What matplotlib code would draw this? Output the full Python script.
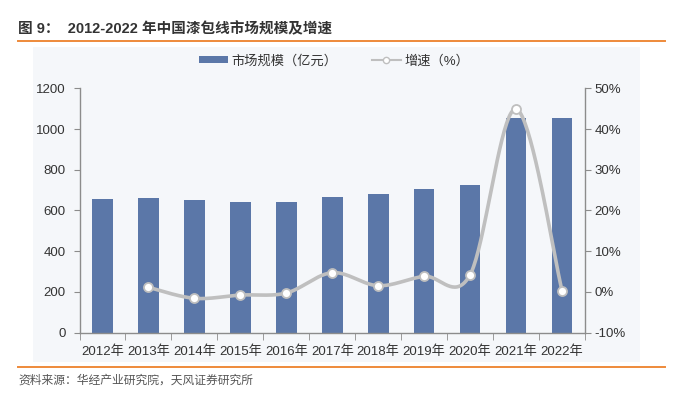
import matplotlib
matplotlib.use("Agg")
import matplotlib.pyplot as plt
import numpy as np
from matplotlib.patches import Patch
from matplotlib.lines import Line2D

years = ["2012年", "2013年", "2014年", "2015年", "2016年", "2017年",
         "2018年", "2019年", "2020年", "2021年", "2022年"]
market_size = [655, 660, 649, 641, 641, 668, 680, 704, 727, 1055, 1055]
growth_years = ["2013年", "2014年", "2015年", "2016年", "2017年",
                "2018年", "2019年", "2020年", "2021年", "2022年"]
growth = [1.1, -1.6, -0.8, -0.3, 4.7, 1.5, 3.8, 4.2, 44.9, 0.3]

left_ticks = [0, 200, 400, 600, 800, 1000, 1200]
right_ticks = [-10, 0, 10, 20, 30, 40, 50]

FONT = ["Liberation Sans", "Noto Sans CJK SC", "DejaVu Sans"]
plt.rcParams["font.family"] = FONT

BAR_C = "#5b77a8"
LINE_C = "#bfbfbf"
TXT_C = "#333333"
AX_C = "#8c8c8c"
ORANGE = "#ee8a3a"

fig = plt.figure(figsize=(6.83, 3.97), dpi=100)
fig.patch.set_facecolor("white")

# light chart background panel
bg = fig.add_axes([33 / 683, 1 - 362 / 397, (640 - 33) / 683, (362 - 47) / 397], zorder=-10)
bg.set_facecolor("#f5f7fa")
bg.set_xticks([]); bg.set_yticks([])
for s in bg.spines.values():
    s.set_visible(False)

ax = fig.add_axes([79.5 / 683, 1 - 332.5 / 397, (585 - 79.5) / 683, (332.5 - 88.3) / 397])
ax.set_facecolor("none")
x = np.arange(len(years))
ax.bar(x, market_size, width=0.45, color=BAR_C, zorder=2)
ax.set_xlim(-0.5, len(years) - 0.5)
ax.set_ylim(0, 1200)
ax.set_yticks(left_ticks)
ax.set_yticklabels([str(v) for v in left_ticks])
ax.set_xticks(x)
ax.set_xticklabels(years)
ax.set_xticks(np.arange(-0.5, len(years), 1.0), minor=True)
ax.tick_params(axis="x", which="major", length=0, pad=9, labelsize=9.5, colors=TXT_C)
ax.tick_params(axis="x", which="minor", length=5, color=AX_C, direction="out")
ax.tick_params(axis="y", length=4, color=AX_C, labelsize=9.5, colors=TXT_C, pad=6)
for s in ["top", "right"]:
    ax.spines[s].set_visible(False)
for s in ["left", "bottom"]:
    ax.spines[s].set_color(AX_C)
    ax.spines[s].set_linewidth(1.0)

ax2 = ax.twinx()
ax2.set_ylim(-10, 50)
ax2.set_yticks(right_ticks)
ax2.set_yticklabels([f"{v}%" for v in right_ticks])
ax2.tick_params(axis="y", length=4, color=AX_C, labelsize=9.5, colors=TXT_C, pad=3)
for s in ["top", "left", "bottom"]:
    ax2.spines[s].set_visible(False)
ax2.spines["right"].set_color(AX_C)
ax2.spines["right"].set_linewidth(1.0)

# smoothed line (Excel-like Catmull-Rom) through the growth points
gx = np.array([years.index(y) for y in growth_years], dtype=float)
gy = np.array(growth, dtype=float)
px = np.concatenate([[gx[0]], gx, [gx[-1]]])
py = np.concatenate([[gy[0]], gy, [gy[-1]]])
cx, cy = [], []
t = np.linspace(0, 1, 40)
for i in range(1, len(px) - 2):
    p0 = np.array([px[i], py[i]])
    p3 = np.array([px[i + 1], py[i + 1]])
    c1 = p0 + (np.array([px[i + 1], py[i + 1]]) - np.array([px[i - 1], py[i - 1]])) / 6
    c2 = p3 - (np.array([px[i + 2], py[i + 2]]) - np.array([px[i], py[i]])) / 6
    b = ((1 - t) ** 3)[:, None] * p0 + (3 * (1 - t) ** 2 * t)[:, None] * c1 + \
        (3 * (1 - t) * t ** 2)[:, None] * c2 + (t ** 3)[:, None] * p3
    cx.extend(b[:, 0]); cy.extend(b[:, 1])
ax2.plot(cx, cy, color=LINE_C, lw=2.6, zorder=3, solid_capstyle="round")
ax2.plot(gx, gy, linestyle="none", marker="o", markersize=6.5,
         markerfacecolor="white", markeredgecolor=LINE_C, markeredgewidth=1.3, zorder=4)

# legend
handles = [Patch(facecolor=BAR_C, edgecolor="none", label="市场规模（亿元）"),
           Line2D([0], [0], color=LINE_C, lw=1.5, marker="o", markersize=4.5,
                  markerfacecolor="white", markeredgecolor=LINE_C, label="增速（%）")]
fig.legend(handles=handles, loc="center", bbox_to_anchor=(334 / 683, 1 - 61 / 397),
           ncol=2, frameon=False, fontsize=9.5, handlelength=2.2, handleheight=0.35,
           columnspacing=2.6, handletextpad=0.25, labelcolor=TXT_C)

# title, rules, source
fig.text(18 / 683, 1 - 29 / 397, "图 9：  2012-2022 年中国漆包线市场规模及增速",
         fontsize=10.5, fontweight="bold", color=TXT_C, va="center", ha="left")
fig.add_artist(Line2D([18 / 683, 665 / 683], [1 - 41 / 397, 1 - 41 / 397],
                      color=ORANGE, lw=1.4, transform=fig.transFigure))
fig.add_artist(Line2D([18 / 683, 665 / 683], [1 - 367 / 397, 1 - 367 / 397],
                      color=ORANGE, lw=1.4, transform=fig.transFigure))
fig.text(18 / 683, 1 - 381 / 397, "资料来源：华经产业研究院，天风证券研究所",
         fontsize=8.5, color="#555555", va="center", ha="left")

fig.savefig("out.png", dpi=100)
